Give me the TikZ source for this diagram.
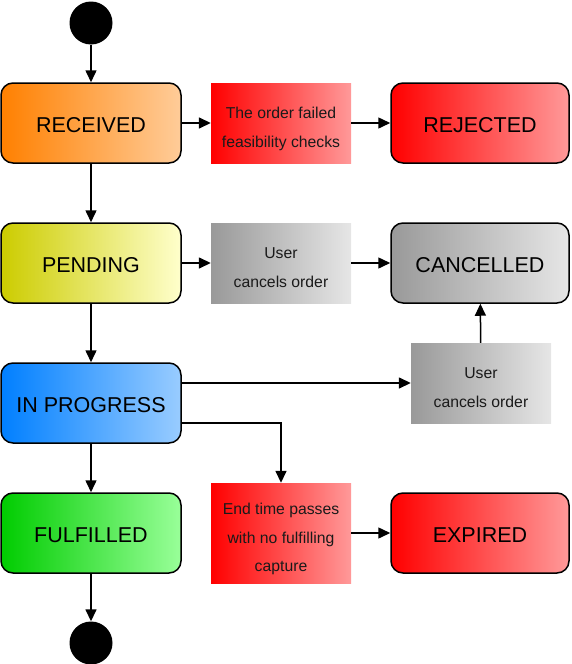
\documentclass[tikz,border=0pt]{standalone}
\usepackage{fontspec}
\setmainfont{Liberation Sans}
\usetikzlibrary{arrows.meta}
\definecolor{orgL}{HTML}{FF8000}
\definecolor{orgR}{HTML}{FFCC99}
\definecolor{redL}{HTML}{FF0000}
\definecolor{redR}{HTML}{FF9999}
\definecolor{yelL}{HTML}{CCCC00}
\definecolor{yelR}{HTML}{FFFFCC}
\definecolor{bluL}{HTML}{007FFF}
\definecolor{bluR}{HTML}{99CCFF}
\definecolor{grnL}{HTML}{00CC00}
\definecolor{grnR}{HTML}{99FF99}
\definecolor{gryL}{HTML}{999999}
\definecolor{gryR}{HTML}{E6E6E6}
\definecolor{labtext}{HTML}{1A1A1A}
\tikzset{
  state/.style={draw=black, line width=1.5pt, rounded corners=12pt, minimum width=180pt, minimum height=80pt, inner sep=0pt, text height=18pt, text depth=0pt, font=\fontsize{21.5}{24}\selectfont},
  evt/.style={minimum width=140pt, minimum height=80pt, inner sep=0pt, align=center, text=labtext, text height=48pt, text depth=0pt, font=\fontsize{15.75}{28.5}\selectfont},
  dot/.style={circle, fill=black, minimum size=43pt, inner sep=0pt},
  conn/.style={line width=1.5pt, -{Triangle[length=12pt,width=11pt]}}
}
\begin{document}
\begin{tikzpicture}[x=1pt,y=-1pt]
\useasboundingbox (0,0) rectangle (572,664);
\node[dot] (start) at (91,23) {};
\node[state, left color=orgL, right color=orgR] (rec) at (91,123) {RECEIVED};
\node[evt, left color=redL, right color=redR] (e1) at (281,123) {The order failed\\feasibility checks};
\node[state, minimum width=178pt, left color=redL, right color=redR] (rej) at (480,123) {REJECTED};
\node[state, left color=yelL, right color=yelR] (pen) at (91,263) {PENDING};
\node[evt, left color=gryL, right color=gryR] (e2) at (281,263) {User\\cancels order};
\node[state, minimum width=178pt, left color=gryL, right color=gryR] (can) at (480,263) {CANCELLED};
\node[state, left color=bluL, right color=bluR] (inp) at (91,403) {IN PROGRESS};
\node[evt, left color=gryL, right color=gryR] (e3) at (481,383) {User\\cancels order};
\node[state, left color=grnL, right color=grnR] (ful) at (91,533) {FULFILLED};
\node[evt, minimum height=100pt, text height=80.5pt, text depth=3pt, left color=redL, right color=redR] (e4) at (281,533) {End time passes\\with no fulfilling\\capture};
\node[state, minimum width=178pt, left color=redL, right color=redR] (exp) at (480,533) {EXPIRED};
\node[dot] (end) at (91,643) {};
\draw[conn] (start) -- (rec);
\draw[conn] (rec) -- (e1);
\draw[conn] (e1) -- (rej);
\draw[conn] (rec) -- (pen);
\draw[conn] (pen) -- (e2);
\draw[conn] (e2) -- (can);
\draw[conn] (pen) -- (inp);
\draw[conn] (inp.east |- e3.west) -- (e3.west);
\draw[conn] (e3) -- (can);
\draw[conn] ([yshift=-20pt]inp.east) -| (e4.north);
\draw[conn] (inp) -- (ful);
\draw[conn] (ful) -- (end);
\draw[conn] (e4) -- (exp);
\end{tikzpicture}
\end{document}
